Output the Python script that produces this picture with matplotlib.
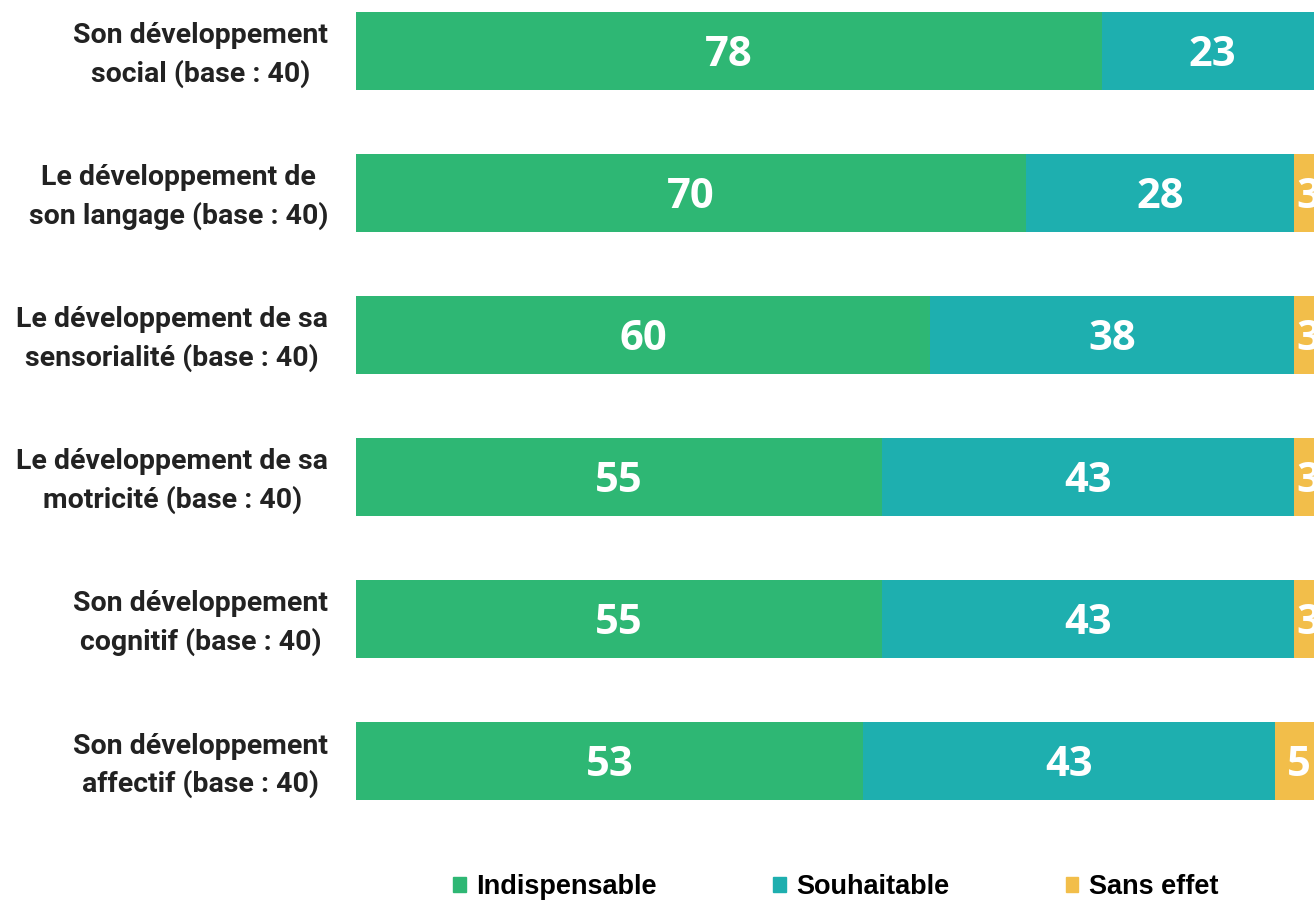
import matplotlib.pyplot as plt
import matplotlib.transforms as mtransforms
from matplotlib.patches import Rectangle

categories = [
    "Son développement\nsocial (base : 40)",
    "Le développement de\nson langage (base : 40)",
    "Le développement de sa\nsensorialité (base : 40)",
    "Le développement de sa\nmotricité (base : 40)",
    "Son développement\ncognitif (base : 40)",
    "Son développement\naffectif (base : 40)",
]
indispensable = [78, 70, 60, 55, 55, 53]
souhaitable = [23, 28, 38, 43, 43, 43]
sans_effet = [0, 3, 3, 3, 3, 5]

series_names = ["Indispensable", "Souhaitable", "Sans effet"]
colors = ["#2EB774", "#1EAFAF", "#F2BE4A"]

fig = plt.figure(figsize=(13.14, 9.02), dpi=100)
ax = fig.add_axes([356 / 1314, 1 - 810 / 902, 1 - 356 / 1314, 810 / 902])

y = list(range(len(categories)))
left = [0] * len(categories)
for name, vals, col in zip(series_names, [indispensable, souhaitable, sans_effet], colors):
    ax.barh(y, vals, left=left, height=0.555, color=col, label=name)
    for yi, v, l in zip(y, vals, left):
        if v > 0:
            # labels sit slightly low in the original, nudge them down
            ax.text(l + v / 2, yi + 0.03, str(v), ha="center", va="center", color="white",
                    fontsize=30, fontweight="bold", family="Open Sans", clip_on=False)
    left = [a + b for a, b in zip(left, vals)]

ax.set_xlim(0, 100.1)
ax.set_ylim(5.345, -0.359)
ax.set_yticks(y)
ax.set_yticklabels(categories, fontsize=20.5, fontweight="bold", family="Roboto",
                   color="#222222", ha="right", multialignment="center", linespacing=1.45)
ax.tick_params(axis="y", length=0, pad=20)
ax.set_xticks([])
for s in ax.spines.values():
    s.set_visible(False)

# lift the category labels a few pixels
shift = mtransforms.ScaledTranslation(0, 4 / 100, fig.dpi_scale_trans)
for lab in ax.get_yticklabels():
    lab.set_transform(lab.get_transform() + shift)

handles = [Rectangle((0, 0), 1, 1, color=c) for c in colors]
fig.legend(handles, series_names, loc="center", bbox_to_anchor=(836 / 1314, 1 - 887 / 902),
           ncol=3, frameon=False, handlelength=0.45, handleheight=0.45, handletextpad=0.4,
           columnspacing=4.3, prop={"family": "Liberation Sans", "weight": "bold", "size": 19.5})

fig.savefig("out.png", dpi=100)
